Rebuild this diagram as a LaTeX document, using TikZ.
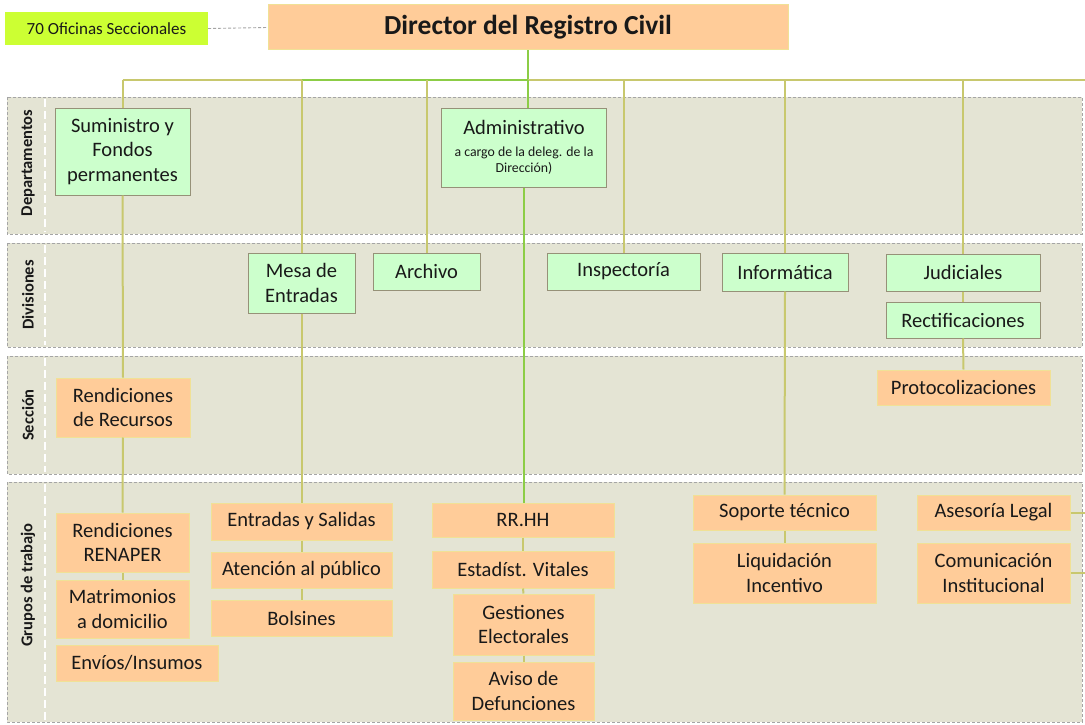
\documentclass[tikz,border=0pt]{standalone}
\usepackage{fontspec}
\setmainfont{Carlito}
\definecolor{bandfill}{RGB}{228,228,212}
\definecolor{bandline}{RGB}{165,165,165}
\definecolor{gfill}{RGB}{204,255,204}
\definecolor{gline}{RGB}{150,145,120}
\definecolor{ofill}{RGB}{255,204,153}
\definecolor{oline}{RGB}{240,225,150}
\definecolor{limefill}{RGB}{204,255,51}
\definecolor{olivec}{RGB}{200,200,110}
\definecolor{lgreen}{RGB}{140,205,70}
\definecolor{txt}{RGB}{25,25,25}
\begin{document}
\begin{tikzpicture}[x=1pt,y=-1pt,
  band/.style={draw=bandline, dash pattern=on 3pt off 2pt, fill=bandfill, line width=0.8pt},
  sepline/.style={draw=white, dash pattern=on 8pt off 4pt, line width=1.8pt},
  lbl/.style={rotate=90, font=\fontsize{16.5}{20}\selectfont\bfseries, text=txt},
  gbox/.style={draw=gline, fill=gfill, line width=1pt, align=center, inner sep=0pt, font=\fontsize{20.5}{24.5}\selectfont, text=txt},
  obox/.style={draw=oline, fill=ofill, line width=1pt, align=center, inner sep=0pt, font=\fontsize{20.5}{24.5}\selectfont, text=txt},
  conn/.style={draw=olivec, line width=2pt},
  gconn/.style={draw=lgreen, line width=2pt},
]
\path[use as bounding box, fill=white] (0,0) rectangle (1085,725);

% bands
\draw[band] (7,97) rectangle (1082,234);
\draw[band] (7,243) rectangle (1082,347);
\draw[band] (7,356) rectangle (1082,474);
\draw[band] (7,482) rectangle (1082,722);
\draw[sepline] (45,99) -- (45,232);
\draw[sepline] (45,245) -- (45,345);
\draw[sepline] (45,358) -- (45,472);
\draw[sepline] (45,484) -- (45,720);
\node[lbl] (lDep) at (28,163) {Departamentos};
\node[lbl] (lDiv) at (28,295) {Divisiones};
\node[lbl] (lSec) at (28,415) {Sección};
\node[lbl] (lGru) at (28,585) {Grupos de trabajo};

% top
\node[fill=limefill, minimum width=203, minimum height=33, inner sep=0pt, font=\fontsize{17}{20}\selectfont, text=txt] (ofi) at (106.5,28.5) {70 Oficinas Seccionales};
\node[obox, minimum width=520, minimum height=45, font=\fontsize{27.5}{32}\selectfont\bfseries] (dir) at (528,27.5) {Director del Registro Civil};

% departamentos
\node[gbox, minimum width=135, minimum height=87] (sum) at (122.5,151.5) {Suministro y\\Fondos\\permanentes};
\node[gbox, minimum width=165, minimum height=79] (adm) at (524,147.5) {Administrativo\\[-3pt]{\fontsize{13.8}{16}\selectfont a cargo de la deleg. de la}\\[-8pt]{\fontsize{13.8}{16}\selectfont Dirección)}};

% divisiones
\node[gbox, minimum width=107, minimum height=60] (mesa) at (301.5,283) {Mesa de\\Entradas};
\node[gbox, minimum width=107, minimum height=37] (arch) at (426.5,271.5) {Archivo};
\node[gbox, minimum width=153, minimum height=37] (insp) at (623.5,271.5) {Inspectoría};
\node[gbox, minimum width=126, minimum height=38] (info) at (785,272) {Informática};
\node[gbox, minimum width=154, minimum height=37] (jud) at (963,272.5) {Judiciales};
\node[gbox, minimum width=154, minimum height=36] (rect) at (963,320) {Rectificaciones};

% seccion
\node[obox, minimum width=134, minimum height=59] (rrec) at (123,407.5) {Rendiciones\\de Recursos};
\node[obox, minimum width=173, minimum height=35] (prot) at (963.5,387.5) {Protocolizaciones};

% grupos
\node[obox, minimum width=133, minimum height=59] (renap) at (122.5,542.5) {Rendiciones\\RENAPER};
\node[obox, minimum width=133, minimum height=58] (matr) at (122.5,609) {Matrimonios\\a domicilio};
\node[obox, minimum width=162, minimum height=36] (envi) at (137,663) {Envíos/Insumos};
\node[obox, minimum width=181, minimum height=37] (eys) at (301.5,521.5) {Entradas y Salidas};
\node[obox, minimum width=181, minimum height=36] (aten) at (301.5,570) {Atención al público};
\node[obox, minimum width=181, minimum height=36] (bols) at (301.5,618) {Bolsines};
\node[obox, minimum width=182, minimum height=34] (rrhh) at (523,520) {RR.HH};
\node[obox, minimum width=182, minimum height=37] (esta) at (523,569.5) {Estadíst. Vitales};
\node[obox, minimum width=141, minimum height=61] (gest) at (523.5,624.5) {Gestiones\\Electorales};
\node[obox, minimum width=141, minimum height=58] (avis) at (523.5,691) {Aviso de\\Defunciones};
\node[obox, minimum width=183, minimum height=35] (sopo) at (784.5,512.5) {Soporte técnico};
\node[obox, minimum width=183, minimum height=60] (liqu) at (784.5,573) {Liquidación\\Incentivo};
\node[obox, minimum width=153, minimum height=35] (ases) at (993.5,512.5) {Asesoría Legal};
\node[obox, minimum width=153, minimum height=60] (comu) at (993.5,573) {Comunicación\\Institucional};

% connectors
\coordinate (busY) at (0,80);
\coordinate (busR) at (1085,80);
\draw[bandline, dash pattern=on 3pt off 2pt, line width=0.9pt] (ofi.east) -- (dir.west);
\draw[gconn] (dir.south) -- (dir.south |- busY);
\draw[conn] (sum.north |- busY) -- (mesa.north |- busY);
\draw[gconn] (mesa.north |- busY) -- (dir.south |- busY);
\draw[conn] (dir.south |- busY) -- (busR);
\draw[conn] (sum.north |- busY) -- (sum.north);
\draw[conn] (sum.south) -- (rrec.north);
\draw[conn] (rrec.south) -- (renap.north);
\draw[conn] (renap.south) -- (matr.north);
\draw[conn] (mesa.north |- busY) -- (mesa.north);
\draw[conn] (mesa.south) -- (eys.north);
\draw[conn] (eys.south) -- (aten.north);
\draw[conn] (aten.south) -- (bols.north);
\draw[conn] (arch.north |- busY) -- (arch.north);
\draw[gconn] (dir.south |- busY) -- (dir.south |- adm.north);
\draw[gconn] (adm.south) -- (adm.south |- rrhh.north);
\draw[conn] (rrhh.south) -- (esta.north);
\draw[conn] (esta.south) -- (gest.north);
\draw[conn] (gest.south) -- (avis.north);
\draw[conn] (insp.north |- busY) -- (insp.north);
\draw[conn] (info.north |- busY) -- (info.north);
\draw[conn] (info.south) -- (sopo.north);
\draw[conn] (sopo.south) -- (liqu.north);
\draw[conn] (jud.north |- busY) -- (jud.north);
\draw[conn] (jud.south) -- (rect.north);
\draw[conn] (rect.south) -- (prot.north);
\draw[conn] (ases.east) -- (ases.east -| busR);
\draw[conn] (comu.east) -- (comu.east -| busR);
\end{tikzpicture}
\end{document}
